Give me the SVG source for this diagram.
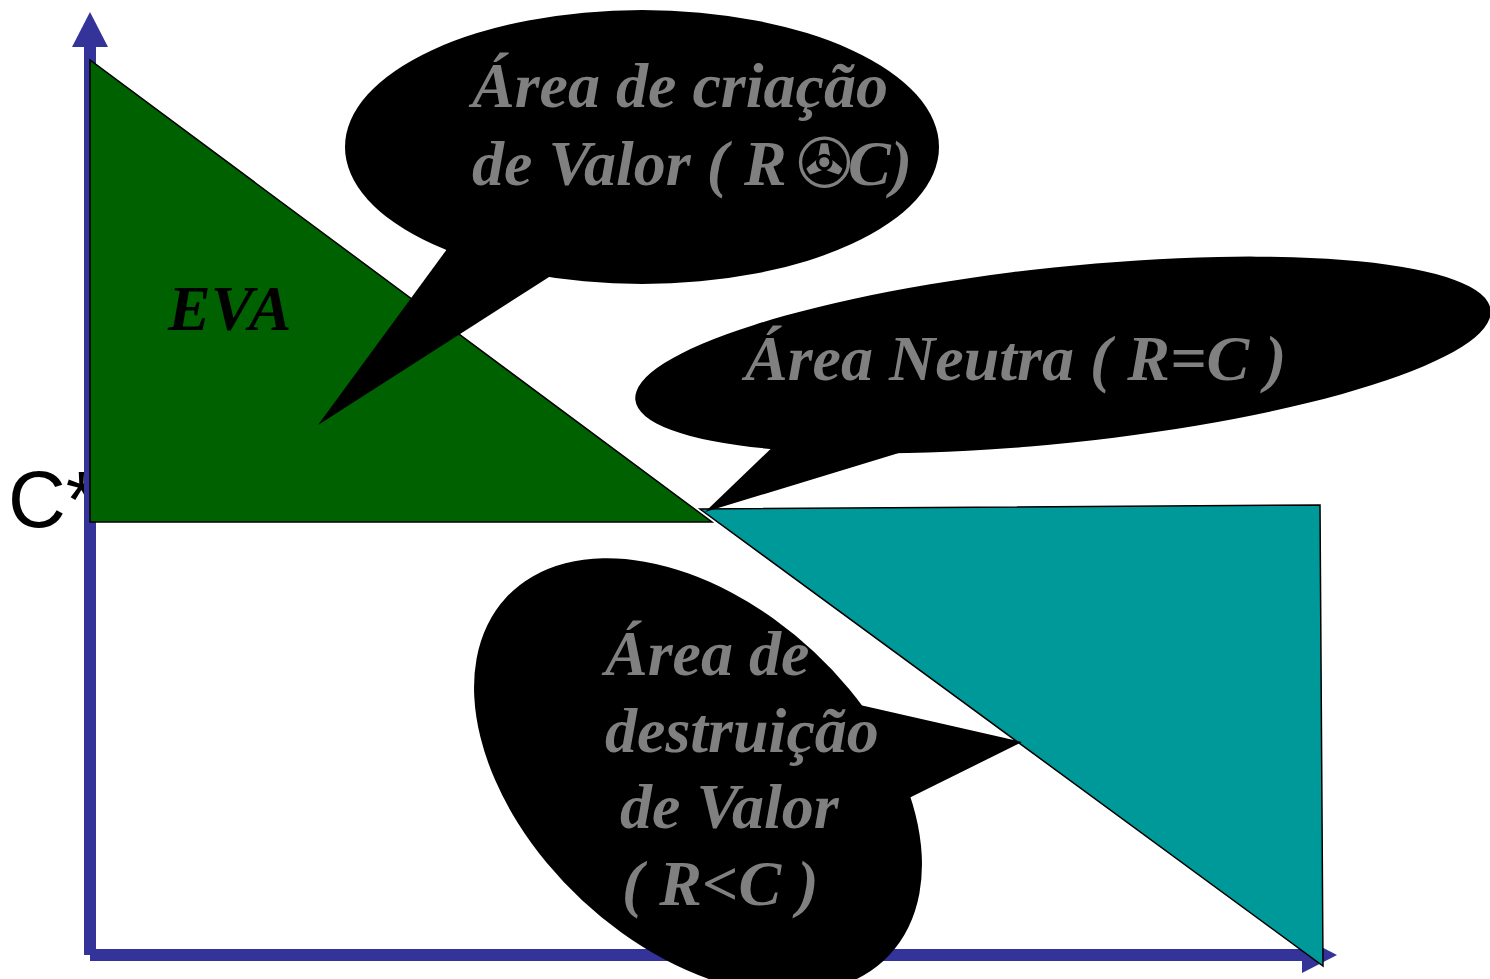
<svg xmlns="http://www.w3.org/2000/svg" width="1490" height="979" viewBox="0 0 1490 979">
<style>
.lbl{font-family:"Liberation Serif","Times New Roman",serif;font-style:italic;font-weight:bold;font-size:64px;fill:#808080}
.axis{fill:#333399}
.bubble{fill:#000000}
.tri{stroke:#000000;stroke-width:1.5}
</style>
<rect width="1490" height="979" fill="#ffffff"/>
<g id="c-star-label">
<text x="8" y="527" font-family="Liberation Sans, Arial, sans-serif" font-size="80" fill="#000000">C*</text>
</g>
<g id="connectors">
<rect class="axis" x="84" y="44" width="12" height="911"/>
<polygon class="axis" points="72,47 90,12 108,47"/>
<rect class="axis" x="90" y="949" width="1214" height="12"/>
<polygon class="axis" points="1302,937 1337,955 1302,973"/>
</g>
<g id="eva-area">
<polygon class="tri" fill="#006100" points="90,60 90,522 712,522"/>
<text x="168" y="330" font-family="Liberation Serif, 'Times New Roman', serif" font-style="italic" font-weight="bold" font-size="64" fill="#000000">EVA</text>
</g>
<g id="destruction-area">
<polygon class="tri" fill="#009999" points="700,509 1320,505 1323,966"/>
</g>
<g id="callout-criacao">
<ellipse class="bubble" cx="642" cy="147" rx="297" ry="137"/>
<polygon class="bubble" points="450,245 318,425 560,270"/>
<text class="lbl" x="472" y="107">Área de criação</text>
<text class="lbl" x="472" y="185">de Valor ( R<tspan x="796" font-family="DejaVu Sans, sans-serif" font-style="normal" font-weight="normal" font-size="68" dy="2">✇</tspan><tspan x="848" dy="-2">C)</tspan></text>
</g>
<g id="callout-neutra">
<ellipse class="bubble" cx="1063" cy="355" rx="430" ry="88" transform="rotate(-6 1063 355)"/>
<polygon class="bubble" points="780,440 705,512 925,445"/>
<text class="lbl" x="745" y="380">Área Neutra ( R=C )</text>
</g>
<g id="callout-destruicao">
<ellipse class="bubble" cx="698" cy="776" rx="262" ry="170" transform="rotate(43 698 776)"/>
<polygon class="bubble" points="860,705 1022,742 905,800"/>
<text class="lbl" x="605" y="675">Área de</text>
<text class="lbl" x="605" y="752">destruição</text>
<text class="lbl" x="620" y="828">de Valor</text>
<text class="lbl" x="622" y="905">( R&lt;C )</text>
</g>
</svg>
